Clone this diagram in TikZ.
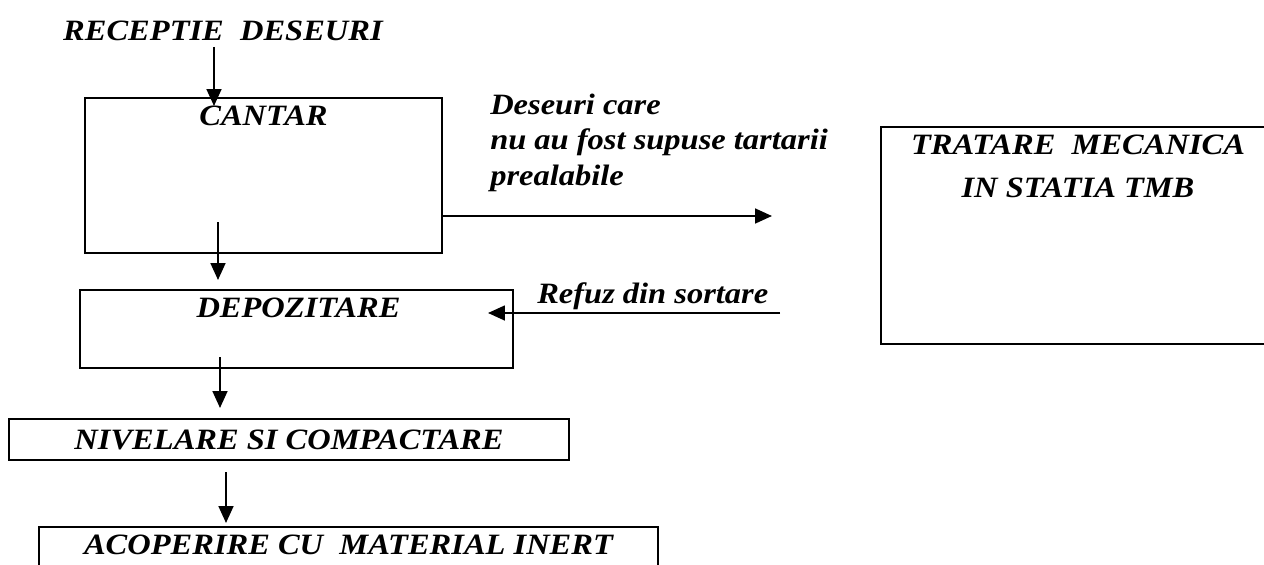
\documentclass[tikz,border=0pt]{standalone}
\usepackage{fontspec}
\setmainfont{Liberation Serif}[FakeStretch=1.1]
\usetikzlibrary{arrows.meta}
\begin{document}
\begin{tikzpicture}[x=0.025cm,y=-0.025cm,
           box_style/.style={draw=black,line width=1.7pt,inner sep=0pt},
           text_style/.style={font=\fontsize{21}{25}\selectfont\bfseries\itshape},
           arrow_style/.style={draw=black,line width=1.5pt,-{Triangle[length=12pt,width=10.5pt]}}]
            \useasboundingbox (0,0) rectangle (1264,565);
            \clip (0,0) rectangle (1264,565);
            % boxes
            \node[text_style] (receptie) at (223, 31) {RECEPTIE\ \ DESEURI};
            \node[box_style,minimum width=8.925cm,minimum height=3.875cm,
                  label={[text_style,anchor=center,yshift=-0.475cm]north:CANTAR}] (cantar) at (263.5, 175.5) {};
            \node[box_style,minimum width=10.825cm,minimum height=1.95cm,
                  label={[text_style,anchor=center,xshift=0.05cm,yshift=-0.475cm]north:DEPOZITARE}] (depozitare) at (296.5, 329) {};
            \node[box_style,text_style,minimum width=14cm,minimum height=1.025cm] (nivelare) at (289, 439.5) {NIVELARE SI COMPACTARE};
            \node[box_style,minimum width=15.475cm,minimum height=1.825cm,
                  label={[text_style,anchor=center,yshift=-0.475cm]north:ACOPERIRE CU\ \ MATERIAL INERT}] (acoperire) at (348.5, 563.5) {};
            \node[box_style,minimum width=9.85cm,minimum height=5.425cm,
                  label={[text_style,font=\fontsize{21}{31}\selectfont\bfseries\itshape,align=center,anchor=north,yshift=-0.1cm]north:TRATARE\ \ MECANICA\\IN STATIA TMB}] (tratare) at (1078, 235.5) {};
            % side texts
            \node[text_style,anchor=base west,align=left,inner sep=0pt] (deseuri) at (490, 185) {Deseuri care\\nu au fost supuse tartarii\\prealabile};
            \node[text_style,anchor=base west,inner sep=0pt] (refuz) at (537, 303) {Refuz din sortare};
            % arrow ends
            \coordinate (rec_out) at (214, 47);
            \coordinate (cantar_in) at (214, 106);
            \coordinate (cantar_out) at (218, 222);
            \coordinate (dep_top) at (218, 280);
            \coordinate (dep_out) at (220, 357);
            \coordinate (niv_top) at (220, 408);
            \coordinate (niv_out) at (226, 472);
            \coordinate (aco_top) at (226, 523);
            \coordinate (tmb_in) at (772, 216);
            \coordinate (refuz_end) at (780, 313);
            \coordinate (dep_in) at (488, 313);
            % arrows
            \draw[arrow_style] (rec_out) -- (cantar_in);
            \draw[arrow_style] (cantar_out) -- (dep_top);
            \draw[arrow_style] (dep_out) -- (niv_top);
            \draw[arrow_style] (niv_out) -- (aco_top);
            \draw[arrow_style] (cantar.east |- tmb_in) -- (tmb_in);
            \draw[arrow_style] (refuz_end) -- (dep_in);
\end{tikzpicture}
\end{document}
